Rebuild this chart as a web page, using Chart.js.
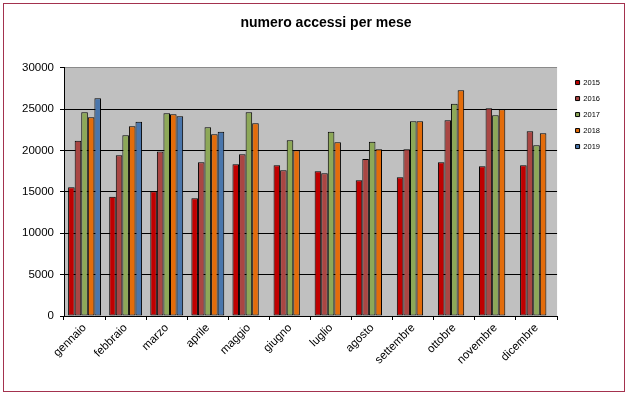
<!DOCTYPE html>
<html>
<head>
<meta charset="utf-8">
<script src="https://cdn.jsdelivr.net/npm/chart.js@4.4.1/dist/chart.umd.min.js"></script>
<style>
  html, body { margin: 0; padding: 0; background: #ffffff; }
  #wrap { position: relative; width: 628px; height: 394px; background: #ffffff; overflow: hidden; }
  #frame { position: absolute; left: 3px; top: 3px; width: 620px; height: 387px; border: 1.5px solid #A3324E; }
  #c { position: absolute; left: 0; top: 0; }
</style>
</head>
<body>
<div id="wrap">
  <div id="frame"></div>
  <canvas id="c" width="628" height="394"></canvas>
</div>
<script>
const titleText = 'numero accessi per mese';
const months = ['gennaio','febbraio','marzo','aprile','maggio','giugno','luglio','agosto','settembre','ottobre','novembre','dicembre'];
const years = ['2015','2016','2017','2018','2019'];
const s2015 = [15570,14400,15080,14230,18350,18230,17500,16410,16770,18590,18100,18230];
const s2016 = [21170,19440,19880,18590,19560,17620,17260,18990,20160,23670,25120,22340];
const s2017 = [24640,21850,24520,22820,24640,21250,22260,21050,23550,25650,24270,20650];
const s2018 = [24030,22940,24400,21980,23310,20040,21010,20160,23550,27300,25000,22100];
const s2019 = [26330,23470,24150,22260,null,null,null,null,null,null,null,null];
const yMin = 0, yMax = 30000, yStep = 5000;

const seriesValues = [s2015, s2016, s2017, s2018, s2019];
const colors = ['#C00000', '#AA4643', '#8DA858', '#E36C0A', '#4A76AC'];

const FONT = '"Liberation Sans", Arial, sans-serif';
Chart.defaults.color = '#000';
Chart.defaults.font.family = FONT;

const plotBg = {
  id: 'plotBg',
  beforeDraw(chart) {
    const a = chart.chartArea, ctx = chart.ctx;
    ctx.save();
    ctx.fillStyle = '#C0C0C0';
    ctx.fillRect(a.left, a.top, a.right - a.left, a.bottom - a.top);
    ctx.restore();
  }
};
const nudge = {
  id: 'nudge',
  afterLayout(chart) {
    const lg = chart.legend;
    if (lg) { lg.left += 10; lg.right += 10; lg.top += 2.5; lg.bottom += 2.5; }
    const t = chart.titleBlock;
    if (t) { const d = 326 - (t.left + t.right) / 2; t.left += d; t.right += d; }
  }
};

new Chart(document.getElementById('c'), {
  type: 'bar',
  data: {
    labels: months,
    datasets: years.map((y, i) => ({
      label: y,
      data: seriesValues[i],
      backgroundColor: colors[i],
      borderColor: '#000',
      borderWidth: 1,
      borderSkipped: false,
      categoryPercentage: 0.8,
      barPercentage: 1.0
    }))
  },
  options: {
    responsive: false,
    animation: false,
    layout: { padding: { left: 0, right: 28, top: 0, bottom: 0 } },
    plugins: {
      title: {
        display: true,
        text: titleText,
        color: '#000',
        font: { family: FONT, size: 14, weight: 'bold' },
        padding: { top: 15, bottom: 36 }
      },
      legend: {
        display: true,
        position: 'right',
        align: 'start',
        fullSize: false,
        labels: {
          boxWidth: 4,
          boxHeight: 4,
          padding: 8.5,
          color: '#000',
          font: { family: FONT, size: 7.5, lineHeight: 1 }
        }
      },
      tooltip: { enabled: false }
    },
    scales: {
      x: {
        offset: true,
        grid: { offset: true, drawOnChartArea: false, drawTicks: true, tickLength: 4, tickColor: '#000', color: '#000' },
        border: { display: true, color: '#000', width: 1 },
        ticks: { minRotation: 45, maxRotation: 45, padding: 1, color: '#000', font: { family: FONT, size: 11.5 }, autoSkip: false },
        afterFit(scale) { scale.height = 78; }
      },
      y: {
        min: yMin, max: yMax,
        grid: {
          color: (ctx) => (ctx.tick && ctx.tick.value === yMax) ? '#8A8A8A' : '#000',
          tickColor: '#000',
          tickLength: 4,
          lineWidth: 1
        },
        border: { display: true, color: '#000', width: 1 },
        ticks: { stepSize: yStep, padding: 6, color: '#000', font: { family: FONT, size: 11.5 },
                 callback: (v) => String(v) },
        afterFit(scale) { scale.width = 64; }
      }
    }
  },
  plugins: [plotBg, nudge]
});
</script>
</body>
</html>
